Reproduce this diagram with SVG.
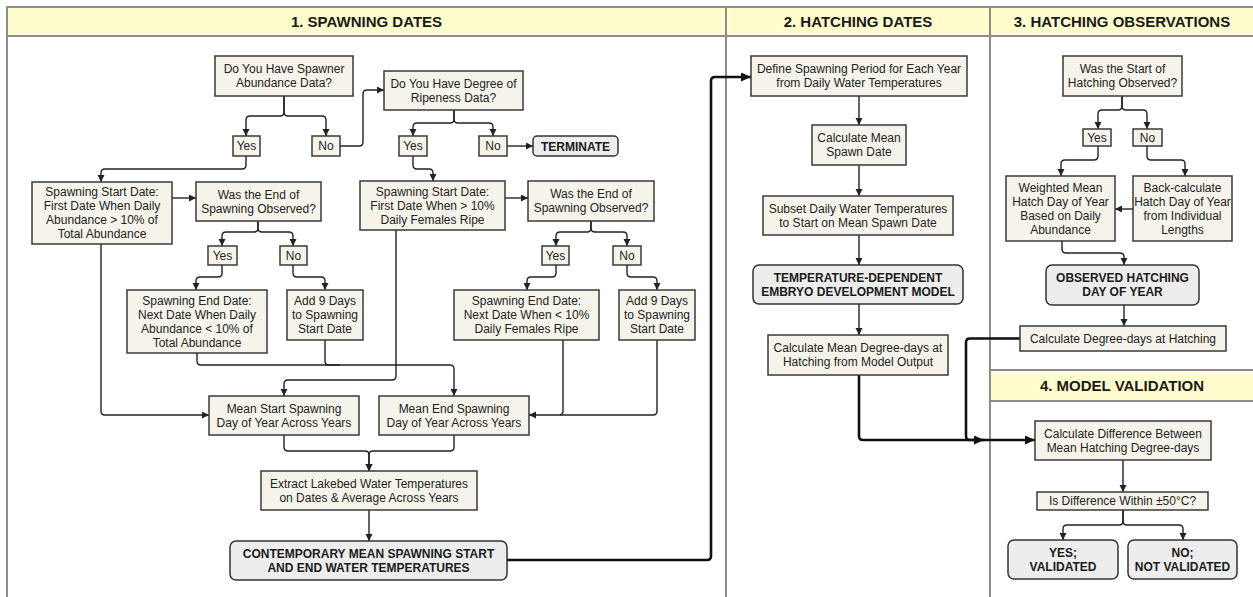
<svg xmlns="http://www.w3.org/2000/svg" width="1253" height="597" viewBox="0 0 1253 597">
<defs>
<style>
.frame{fill:none;stroke:#8c8c8c;stroke-width:2}
.band{fill:#FFFCCD;stroke:#8c8c8c;stroke-width:2}
.hdr{font-family:"Liberation Sans",Arial,sans-serif;font-size:15px;font-weight:bold;fill:#1a1a1a;text-anchor:middle}
.box{fill:#F6F4EA;stroke:#3a3a3a;stroke-width:1.5}
.term{fill:#EDEDED;stroke:#333;stroke-width:1.5}
.t{font-family:"Liberation Sans",Arial,sans-serif;font-size:12px;fill:#222;text-anchor:middle}
.b{font-family:"Liberation Sans",Arial,sans-serif;font-size:12px;font-weight:bold;fill:#1a1a1a;text-anchor:middle}
.c{fill:none;stroke:#222;stroke-width:1.4;marker-end:url(#ah)}
.cn{fill:none;stroke:#222;stroke-width:1.4}
.cb{fill:none;stroke:#111;stroke-width:2.6;marker-end:url(#ahb)}
.cbn{fill:none;stroke:#111;stroke-width:2.6}
</style>
<marker id="ah" markerUnits="userSpaceOnUse" markerWidth="8" markerHeight="8" refX="7" refY="3.5" orient="auto"><path d="M0,0 L7,3.5 L0,7 z" fill="#222"/></marker>
<marker id="ahb" markerUnits="userSpaceOnUse" markerWidth="12" markerHeight="10" refX="10" refY="4.5" orient="auto"><path d="M0,0 L10,4.5 L0,9 z" fill="#111"/></marker>
</defs>
<rect x="0" y="0" width="1253" height="597" fill="#ffffff"/>
<g id="frame">
<rect class="band" x="7" y="7" width="1252" height="29"/>
<rect class="frame" x="7" y="7" width="1252" height="600"/>
<line class="frame" x1="726" y1="7" x2="726" y2="600"/>
<line class="frame" x1="990" y1="7" x2="990" y2="600"/>
<rect class="band" x="990" y="370" width="269" height="31"/>
<text class="hdr" x="366.5" y="27">1. SPAWNING DATES</text>
<text class="hdr" x="858" y="27">2. HATCHING DATES</text>
<text class="hdr" x="1122" y="27">3. HATCHING OBSERVATIONS</text>
<text class="hdr" x="1122" y="391">4. MODEL VALIDATION</text>
</g>
<g id="connectors">
<path class="c" d="M284 96 V112 Q284 116 280 116 H250 Q246 116 246 120 V136"/>
<path class="c" d="M284 96 V112 Q284 116 288 116 H322 Q326 116 326 120 V136"/>
<path class="c" d="M246 156 V165 Q246 169 242 169 H105 Q101 169 101 173 V182"/>
<path class="c" d="M340 146 H359 Q363 146 363 142 V94 Q363 90 367 90 H384"/>
<path class="c" d="M172 198 H196"/>
<path class="c" d="M258 221 V228 Q258 232 254 232 H226 Q222 232 222 236 V246"/>
<path class="c" d="M258 221 V228 Q258 232 262 232 H289 Q293 232 293 236 V246"/>
<path class="c" d="M222 265 V273 Q222 277 218 277 H200 Q196 277 196 281 V290"/>
<path class="c" d="M293 265 V273 Q293 277 297 277 H321 Q325 277 325 281 V290"/>
<path class="c" d="M197 353 V361 Q197 365 201 365 H450 Q454 365 454 369 V396"/>
<path class="cn" d="M325 340 V361 Q325 365 329 365 H340"/>
<path class="c" d="M101 244 V411 Q101 415 105 415 H209"/>
<path class="c" d="M396 230 V376 Q396 380 392 380 H288 Q284 380 284 384 V396"/>
<path class="c" d="M563 340 V411 Q563 415 559 415 H529"/>
<path class="cn" d="M657 340 V411 Q657 415 653 415 H560"/>
<path class="c" d="M284 435 V447 Q284 451 288 451 H365 Q369 451 369 455 V471"/>
<path class="c" d="M454 435 V447 Q454 451 450 451 H373 Q369 451 369 455 V471"/>
<path class="c" d="M369 510 V541"/>
<path class="cb" d="M507 560 H707 Q711 560 711 556 V81 Q711 77 715 77 H751"/>
<path class="c" d="M454 110 V119 Q454 123 450 123 H417 Q413 123 413 127 V136"/>
<path class="c" d="M454 110 V119 Q454 123 458 123 H489 Q493 123 493 127 V136"/>
<path class="c" d="M507 146 H533"/>
<path class="c" d="M413 156 V165 Q413 169 417 169 H429 Q433 169 433 173 V181"/>
<path class="c" d="M505 198 H528"/>
<path class="c" d="M591 221 V228 Q591 232 587 232 H560 Q556 232 556 236 V246"/>
<path class="c" d="M591 221 V228 Q591 232 595 232 H623 Q627 232 627 236 V246"/>
<path class="c" d="M556 265 V273 Q556 277 552 277 H531 Q527 277 527 281 V290"/>
<path class="c" d="M627 265 V273 Q627 277 631 277 H653 Q657 277 657 281 V290"/>
<path class="c" d="M859 96 V125"/>
<path class="c" d="M859 165 V196"/>
<path class="c" d="M859 235 V265"/>
<path class="c" d="M859 304 V335"/>
<path class="cb" d="M859 375 V436 Q859 440 863 440 H984"/>
<path class="c" d="M1122 96 V106 Q1122 110 1118 110 H1102 Q1098 110 1098 114 V129"/>
<path class="c" d="M1122 96 V106 Q1122 110 1126 110 H1143 Q1147 110 1147 114 V129"/>
<path class="c" d="M1098 146 V156 Q1098 160 1094 160 H1065 Q1061 160 1061 164 V176"/>
<path class="c" d="M1147 146 V156 Q1147 160 1151 160 H1181 Q1185 160 1185 164 V176"/>
<path class="c" d="M1133 209 H1115"/>
<path class="c" d="M1062 241 V249 Q1062 253 1066 253 H1120 Q1124 253 1124 257 V265"/>
<path class="c" d="M1124 305 V326"/>
<path class="cb" d="M1020 338.5 H970 Q966 338.5 966 342.5 V436 Q966 440 970 440 H1035"/>
<path class="c" d="M1123 460 V492"/>
<path class="c" d="M1123 510 V521 Q1123 525 1119 525 H1067 Q1063 525 1063 529 V540"/>
<path class="c" d="M1123 510 V521 Q1123 525 1127 525 H1179 Q1183 525 1183 529 V540"/>
</g>
<g id="n-spawner"><rect class="box" x="215" y="56" width="138" height="40"/><text class="t" x="284" y="73.3">Do You Have Spawner</text><text class="t" x="284" y="87.3">Abundance Data?</text></g>
<g id="n-yes1"><rect class="box" x="233" y="136" width="27" height="20"/><text class="t" x="246.5" y="150.3">Yes</text></g>
<g id="n-no1"><rect class="box" x="312" y="136" width="28" height="20"/><text class="t" x="326" y="150.3">No</text></g>
<g id="n-startabund"><rect class="box" x="32" y="182" width="140" height="62"/><text class="t" x="102" y="196.3">Spawning Start Date:</text><text class="t" x="102" y="210.3">First Date When Daily</text><text class="t" x="102" y="224.3">Abundance &gt; 10% of</text><text class="t" x="102" y="238.3">Total Abundance</text></g>
<g id="n-wasend1"><rect class="box" x="196" y="182" width="125" height="39"/><text class="t" x="258.5" y="198.8">Was the End of</text><text class="t" x="258.5" y="212.8">Spawning Observed?</text></g>
<g id="n-yes2"><rect class="box" x="208" y="246" width="29" height="19"/><text class="t" x="222.5" y="259.8">Yes</text></g>
<g id="n-no2"><rect class="box" x="280" y="246" width="27" height="19"/><text class="t" x="293.5" y="259.8">No</text></g>
<g id="n-endabund"><rect class="box" x="127" y="290" width="140" height="63"/><text class="t" x="197" y="304.8">Spawning End Date:</text><text class="t" x="197" y="318.8">Next Date When Daily</text><text class="t" x="197" y="332.8">Abundance &lt; 10% of</text><text class="t" x="197" y="346.8">Total Abundance</text></g>
<g id="n-add9a"><rect class="box" x="287" y="290" width="76" height="50"/><text class="t" x="325" y="305.3">Add 9 Days</text><text class="t" x="325" y="319.3">to Spawning</text><text class="t" x="325" y="333.3">Start Date</text></g>
<g id="n-meanstart"><rect class="box" x="209" y="396" width="150" height="39"/><text class="t" x="284" y="412.8">Mean Start Spawning</text><text class="t" x="284" y="426.8">Day of Year Across Years</text></g>
<g id="n-meanend"><rect class="box" x="379" y="396" width="150" height="39"/><text class="t" x="454" y="412.8">Mean End Spawning</text><text class="t" x="454" y="426.8">Day of Year Across Years</text></g>
<g id="n-extract"><rect class="box" x="261" y="471" width="216" height="39"/><text class="t" x="369" y="487.8">Extract Lakebed Water Temperatures</text><text class="t" x="369" y="501.8">on Dates &amp; Average Across Years</text></g>
<g id="n-contemp"><rect class="term" x="230" y="541" width="277" height="39" rx="6"/><text class="b" x="368.5" y="557.8">CONTEMPORARY MEAN SPAWNING START</text><text class="b" x="368.5" y="571.8">AND END WATER TEMPERATURES</text></g>
<g id="n-ripeness"><rect class="box" x="384" y="71" width="139" height="39"/><text class="t" x="453.5" y="87.8">Do You Have Degree of</text><text class="t" x="453.5" y="101.8">Ripeness Data?</text></g>
<g id="n-yes3"><rect class="box" x="399" y="136" width="28" height="20"/><text class="t" x="413" y="150.3">Yes</text></g>
<g id="n-no3"><rect class="box" x="479" y="136" width="28" height="20"/><text class="t" x="493" y="150.3">No</text></g>
<g id="n-terminate"><rect class="term" x="533" y="136" width="85" height="20" rx="4"/><text class="b" x="575.5" y="150.5">TERMINATE</text></g>
<g id="n-ripestart"><rect class="box" x="360" y="181" width="145" height="49"/><text class="t" x="432.5" y="195.8">Spawning Start Date:</text><text class="t" x="432.5" y="209.8">First Date When &gt; 10%</text><text class="t" x="432.5" y="223.8">Daily Females Ripe</text></g>
<g id="n-wasend2"><rect class="box" x="528" y="181" width="126" height="40"/><text class="t" x="591" y="198.3">Was the End of</text><text class="t" x="591" y="212.3">Spawning Observed?</text></g>
<g id="n-yes4"><rect class="box" x="542" y="246" width="27" height="19"/><text class="t" x="555.5" y="259.8">Yes</text></g>
<g id="n-no4"><rect class="box" x="613" y="246" width="28" height="19"/><text class="t" x="627" y="259.8">No</text></g>
<g id="n-ripeend"><rect class="box" x="454" y="290" width="145" height="50"/><text class="t" x="526.5" y="305.3">Spawning End Date:</text><text class="t" x="526.5" y="319.3">Next Date When &lt; 10%</text><text class="t" x="526.5" y="333.3">Daily Females Ripe</text></g>
<g id="n-add9b"><rect class="box" x="619" y="290" width="76" height="50"/><text class="t" x="657" y="305.3">Add 9 Days</text><text class="t" x="657" y="319.3">to Spawning</text><text class="t" x="657" y="333.3">Start Date</text></g>
<g id="n-define"><rect class="box" x="751" y="56" width="216" height="40"/><text class="t" x="859" y="73.3">Define Spawning Period for Each Year</text><text class="t" x="859" y="87.3">from Daily Water Temperatures</text></g>
<g id="n-calcmean"><rect class="box" x="812" y="125" width="94" height="40"/><text class="t" x="859" y="142.3">Calculate Mean</text><text class="t" x="859" y="156.3">Spawn Date</text></g>
<g id="n-subset"><rect class="box" x="763" y="196" width="190" height="39"/><text class="t" x="858" y="212.8">Subset Daily Water Temperatures</text><text class="t" x="858" y="226.8">to Start on Mean Spawn Date</text></g>
<g id="n-tempdep"><rect class="term" x="753" y="265" width="210" height="39" rx="6"/><text class="b" x="858" y="281.8">TEMPERATURE-DEPENDENT</text><text class="b" x="858" y="295.8">EMBRYO DEVELOPMENT MODEL</text></g>
<g id="n-calcddmodel"><rect class="box" x="768" y="335" width="180" height="40"/><text class="t" x="858" y="352.3">Calculate Mean Degree-days at</text><text class="t" x="858" y="366.3">Hatching from Model Output</text></g>
<g id="n-wasstart"><rect class="box" x="1063" y="56" width="119" height="40"/><text class="t" x="1122.5" y="73.3">Was the Start of</text><text class="t" x="1122.5" y="87.3">Hatching Observed?</text></g>
<g id="n-yes5"><rect class="box" x="1083" y="129" width="28" height="17"/><text class="t" x="1097" y="141.8">Yes</text></g>
<g id="n-no5"><rect class="box" x="1133" y="129" width="29" height="17"/><text class="t" x="1147.5" y="141.8">No</text></g>
<g id="n-weighted"><rect class="box" x="1006" y="176" width="109" height="65"/><text class="t" x="1060.5" y="191.8">Weighted Mean</text><text class="t" x="1060.5" y="205.8">Hatch Day of Year</text><text class="t" x="1060.5" y="219.8">Based on Daily</text><text class="t" x="1060.5" y="233.8">Abundance</text></g>
<g id="n-back"><rect class="box" x="1133" y="176" width="99" height="65"/><text class="t" x="1182.5" y="191.8">Back-calculate</text><text class="t" x="1182.5" y="205.8">Hatch Day of Year</text><text class="t" x="1182.5" y="219.8">from Individual</text><text class="t" x="1182.5" y="233.8">Lengths</text></g>
<g id="n-observed"><rect class="term" x="1046" y="265" width="153" height="40" rx="6"/><text class="b" x="1122.5" y="282.3">OBSERVED HATCHING</text><text class="b" x="1122.5" y="296.3">DAY OF YEAR</text></g>
<g id="n-calcdd"><rect class="box" x="1020" y="326" width="206" height="25"/><text class="t" x="1123" y="342.8">Calculate Degree-days at Hatching</text></g>
<g id="n-calcdiff"><rect class="box" x="1035" y="421" width="176" height="39"/><text class="t" x="1123" y="437.8">Calculate Difference Between</text><text class="t" x="1123" y="451.8">Mean Hatching Degree-days</text></g>
<g id="n-isdiff"><rect class="box" x="1037" y="492" width="171" height="18"/><text class="t" x="1122.5" y="505.3">Is Difference Within ±50°C?</text></g>
<g id="n-yesval"><rect class="term" x="1008" y="540" width="110" height="39" rx="6"/><text class="b" x="1063" y="556.8">YES;</text><text class="b" x="1063" y="570.8">VALIDATED</text></g>
<g id="n-noval"><rect class="term" x="1128" y="540" width="109" height="39" rx="6"/><text class="b" x="1182.5" y="556.8">NO;</text><text class="b" x="1182.5" y="570.8">NOT VALIDATED</text></g>
</svg>
